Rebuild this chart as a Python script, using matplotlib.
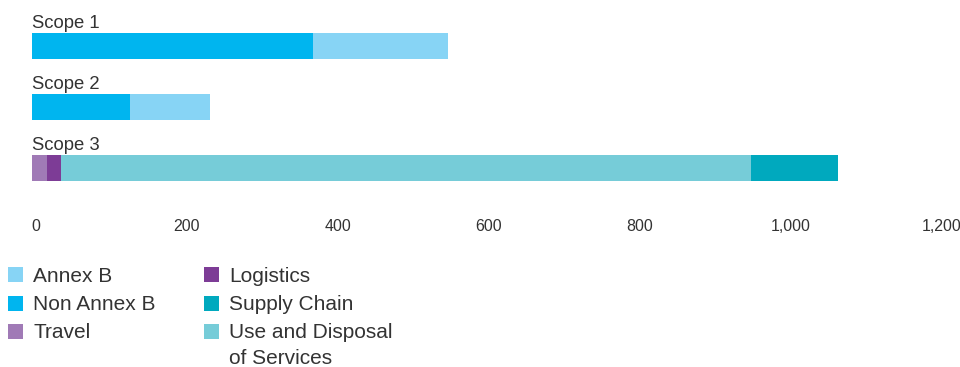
import matplotlib
matplotlib.use("Agg")
import matplotlib.pyplot as plt
import matplotlib.transforms as mtransforms
from matplotlib.patches import Rectangle

plt.rcParams["font.family"] = ["Liberation Sans", "DejaVu Sans"]

scopes = ["Scope 1", "Scope 2", "Scope 3"]

# stacked segments per scope (left to right)
non_annex_b = [372, 130, 0]
annex_b = [179, 106, 0]
travel = [0, 0, 20]
logistics = [0, 0, 18]
use_disposal = [0, 0, 915]
supply_chain = [0, 0, 115]

series = [
    ("Non Annex B", non_annex_b, "#00b5ef"),
    ("Annex B", annex_b, "#87d4f5"),
    ("Travel", travel, "#a07ab6"),
    ("Logistics", logistics, "#7d3c96"),
    ("Use and Disposal\nof Services", use_disposal, "#76ccd8"),
    ("Supply Chain", supply_chain, "#00a9be"),
]
colors = {name: c for name, _, c in series}

xticks = [0, 200, 400, 600, 800, 1000, 1200]
xticklabels = ["0", "200", "400", "600", "800", "1,000", "1,200"]

text_color = "#333333"
W, H = 960, 367
fig = plt.figure(figsize=(W / 100, H / 100), dpi=100)

# axes placed in pixel terms: value 0 at x=32, 0.7545 px per unit
left_px, top_px, bottom_px = 32, 15.5, 198.5
width_px = 1200 * 0.7545
ax = fig.add_axes([left_px / W, 1 - bottom_px / H, width_px / W, (bottom_px - top_px) / H])

ypos = list(range(len(scopes)))
bar_h = 0.426
lefts = [0] * len(scopes)
for name, vals, c in series:
    ax.barh(ypos, vals, left=lefts, height=bar_h, color=c, linewidth=0)
    lefts = [l + v for l, v in zip(lefts, vals)]

for i, s in enumerate(scopes):
    ax.text(0, i - bar_h / 2 - 0.085, s, ha="left", va="baseline",
            fontsize=13.3, color=text_color)

ax.set_xlim(0, 1200)
ax.set_ylim(2.5, -0.5)
ax.set_xticks(xticks)
ax.set_xticklabels(xticklabels, fontsize=11.5, color=text_color)
ax.set_yticks([])
ax.tick_params(axis="x", length=0, pad=15)
offset = mtransforms.ScaledTranslation(4 / 100, 0, fig.dpi_scale_trans)
for lbl in ax.get_xticklabels():
    lbl.set_transform(lbl.get_transform() + offset)
for sp in ax.spines.values():
    sp.set_visible(False)

# legend, two columns
def px(x, y):
    return x / W, 1 - y / H

legend_rows = [
    ("Annex B", 8, 274.5),
    ("Non Annex B", 8, 303),
    ("Travel", 8, 331.5),
    ("Logistics", 204, 274.5),
    ("Supply Chain", 204, 303),
    ("Use and Disposal\nof Services", 204, 331.5),
]
for name, x, yc in legend_rows:
    fx, fy = px(x, yc + 7.5)
    fig.add_artist(Rectangle((fx, fy), 15 / W, 15 / H, transform=fig.transFigure,
                             color=colors[name], linewidth=0))
    tx, ty = px(x + 25, yc - 8)
    fig.text(tx, ty, name, ha="left", va="top", fontsize=15, color=text_color,
             linespacing=1.45)

fig.savefig("out.png", dpi=100)
